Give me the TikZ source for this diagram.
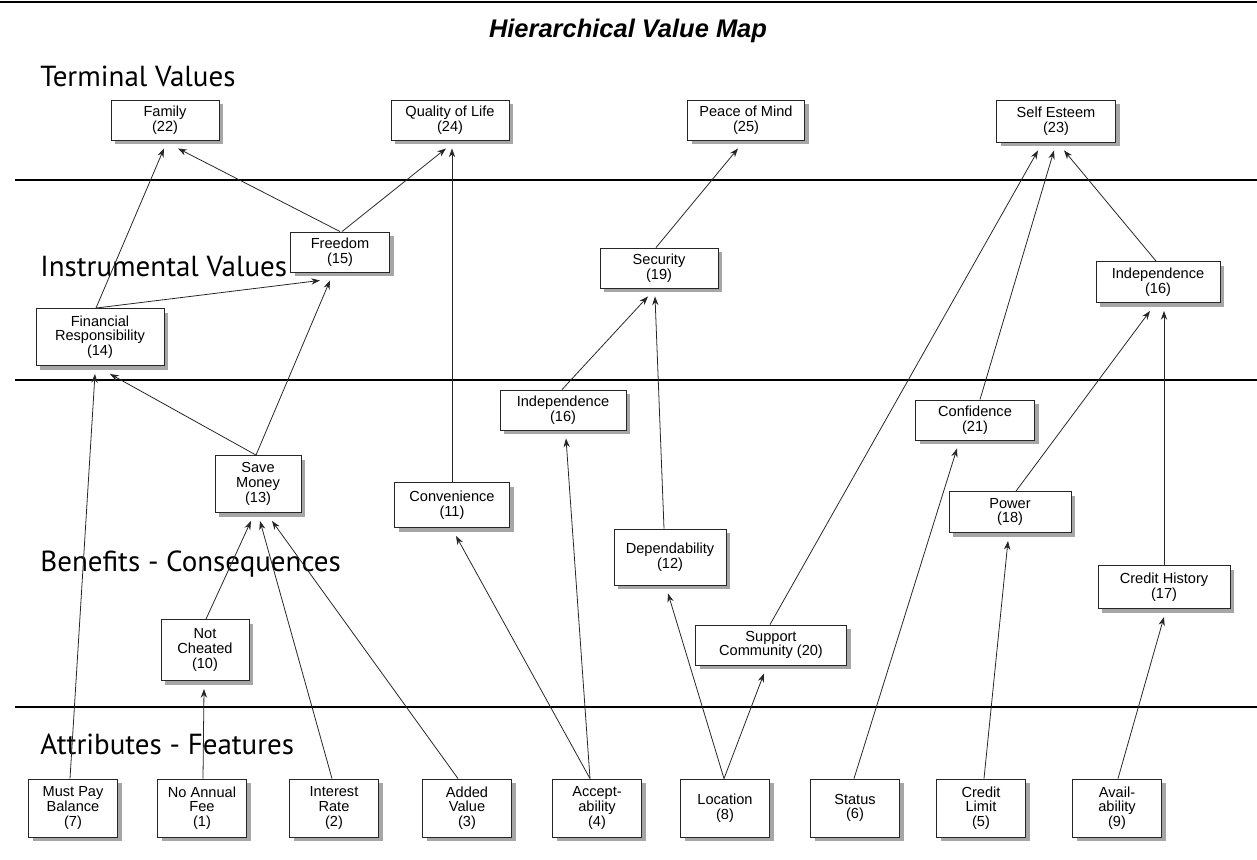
\documentclass[tikz,border=0pt]{standalone}
\usepackage{fontspec}
\setmainfont{Liberation Sans}
\newfontfamily\layerfont{PT Sans}
\usetikzlibrary{shadows,calc,arrows.meta}

\tikzset{
  box/.style={draw=black!85, line width=0.5pt, fill=white, align=center, inner sep=1pt,
    font=\fontsize{8.3}{8.4}\selectfont,
    drop shadow={shadow xshift=2.5pt,shadow yshift=-2.5pt,fill=black!35,opacity=1}},
  sz/.style 2 args={minimum width=#1*0.02cm, minimum height=#2*0.02cm},
  layer/.style={anchor=base west, inner sep=0pt, font=\layerfont\fontsize{16.5}{18}\selectfont},
  link/.style={-{Stealth[length=5pt,width=3.6pt]}, line width=0.45pt, black!85}
}

\begin{document}
\begin{tikzpicture}[x=0.02cm,y=-0.02cm]

\useasboundingbox (0,0) rectangle (1257,859);

\draw [line width=0.8pt] (0,2) -- (1257,2);
\foreach \y in {180, 380, 707} \draw [line width=0.9pt] (15,\y) -- (1257,\y);

\node [font=\bfseries\itshape\fontsize{14.5}{16}\selectfont] (title) at (628,31) {Hierarchical Value Map};

\node [layer] (lterm) at (40,86) {Terminal Values};
\node [layer] (linst) at (40,276) {Instrumental Values};
\node [layer] (lbene) at (40,571) {Benefits - Consequences};
\node [layer] (lattr) at (40,754) {Attributes - Features};

% terminal values
\node [box, sz={108}{40}] (fam) at (165,120) {Family\\(22)};
\node [box, sz={118}{40}] (qol) at (450,120) {Quality of Life\\(24)};
\node [box, sz={117}{40}] (pom) at (746,120) {Peace of Mind\\(25)};
\node [box, sz={119}{42}] (ses) at (1056,121) {Self Esteem\\(23)};

% instrumental values
\node [box, sz={99}{40}] (free) at (340,252) {Freedom\\(15)};
\node [box, sz={118}{40}] (sec) at (659,268) {Security\\(19)};
\node [box, sz={124}{41}] (indr) at (1158,282) {Independence\\(16)};
\node [box, sz={128}{57}] (fin) at (100,337) {Financial\\Responsibility\\(14)};

% benefits
\node [box, sz={126}{40}] (indm) at (563,410) {Independence\\(16)};
\node [box, sz={119}{40}] (conf) at (975,420) {Confidence\\(21)};
\node [box, sz={86}{57}] (save) at (258,484) {Save\\Money\\(13)};
\node [box, sz={115}{45}] (conv) at (452,505) {Convenience\\(11)};
\node [box, sz={122}{41}] (pow) at (1010,512) {Power\\(18)};
\node [box, sz={112}{56}] (dep) at (670,557) {Dependability\\(12)};
\node [box, sz={132}{43}] (cred) at (1164,587) {Credit History\\(17)};
\node [box, sz={88}{61}] (notc) at (205,650) {Not\\Cheated\\(10)};
\node [box, sz={151}{40}] (supp) at (771,645) {Support\\Community (20)};

% attributes
\foreach \n/\x/\t in {must/73/{Must Pay\\Balance\\(7)}, noan/202/{No Annual\\Fee\\(1)},
    rate/334/{Interest\\Rate\\(2)}, addv/467/{Added\\Value\\(3)}, acc/597/{Accept-\\ability\\(4)},
    loc/725/{Location\\(8)}, stat/855/{Status\\(6)}, clim/981/{Credit\\Limit\\(5)},
    avail/1117/{Avail-\\ability\\(9)}}
  \node [box, sz={89}{58}] (\n) at (\x,808) {\t};

% links, from the top of one box to below the other
\foreach \a/\da/\b/\db in {fin/-4/fam/-1, free/0/fam/13, free/2/qol/-4, conv/0/qol/2,
    fin/-4/free/-20, save/-2/free/-10, save/-2/fin/10, must/-3/fin/-5,
    sec/-3/pom/-8, indm/-1/sec/-11, dep/-6/sec/-4,
    supp/-1/ses/-18, conf/5/ses/-2, indr/-2/ses/8,
    pow/6/indr/-8, cred/0/indr/6,
    notc/1/save/-7, rate/-2/save/2, addv/-9/save/14, noan/1/notc/-1,
    acc/-7/conv/4, acc/-7/indm/3, loc/-1/dep/-2, loc/-1/supp/-7,
    stat/-1/conf/-18, clim/3/pow/-2, avail/1/cred/0}
  \draw [link] ($(\a.north)+(\da,0)$) -- ($(\b.south)+(\db,8)$);

\end{tikzpicture}
\end{document}
